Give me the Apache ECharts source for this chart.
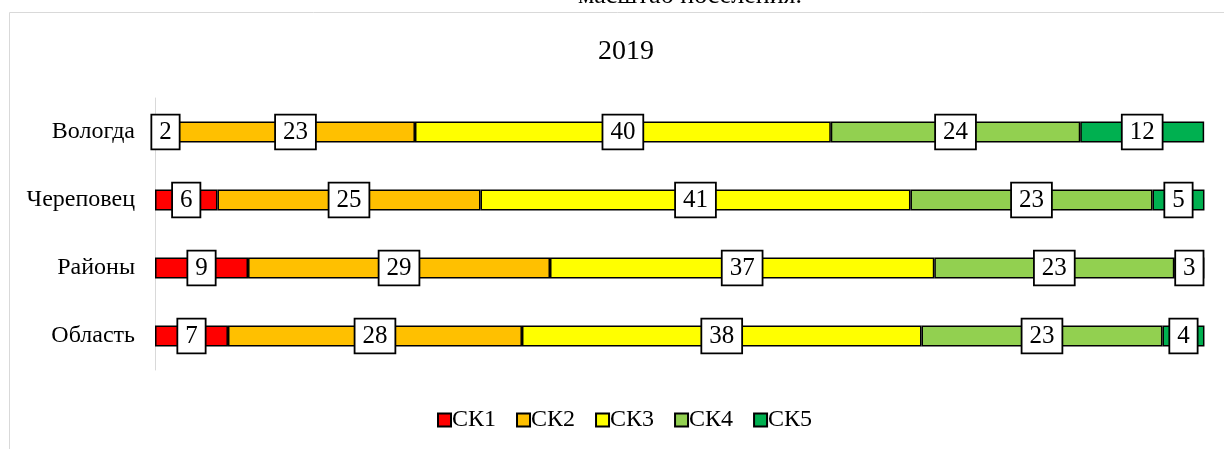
<!DOCTYPE html>
<html>
<head>
<meta charset="utf-8">
<script src="https://cdn.jsdelivr.net/npm/echarts@6/dist/echarts.min.js"></script>
<style>
  html, body { margin: 0; padding: 0; background: #fff; }
  #chart { width: 1224px; height: 449px; }
</style>
</head>
<body>
<div id="chart"></div>
<script>
// shares of each group, % (labels show rounded values)
const categories = ['Вологда', 'Череповец', 'Районы', 'Область']
const seriesNames = ['СК1', 'СК2', 'СК3', 'СК4', 'СК5']
const ck1 = [2.0, 5.95, 8.86, 6.95]
const ck2 = [22.76, 25.05, 28.76, 28.0]
const ck3 = [39.6, 40.95, 36.6, 38.05]
const ck4 = [23.76, 23.05, 22.86, 22.95]
const ck5 = [11.8, 4.95, 2.86, 4.0]
const colors = ['#FF0000', '#FFC000', '#FFFF00', '#92D050', '#00B050']

const FONT = 'Liberation Serif'
const chart = echarts.init(document.getElementById('chart'))

const seriesData = [ck1, ck2, ck3, ck4, ck5]

const option = {
  animation: false,
  textStyle: { fontFamily: FONT },
  title: {
    text: '2019',
    left: 621,
    textAlign: 'center',
    top: 33,
    textStyle: { fontFamily: FONT, fontWeight: 'normal', fontSize: 28, color: '#000' },
  },
  graphic: [
    {
      type: 'rect',
      shape: { x: 9.5, y: 12.5, width: 1400, height: 600 },
      style: { fill: 'none', stroke: '#d9d9d9', lineWidth: 1 },
      silent: true,
      z: -10,
    },
    {
      type: 'text',
      x: 690,
      y: 9,
      style: {
        text: 'масштаб поселения.',
        font: '26px "Liberation Serif"',
        fill: '#000',
        align: 'center',
        verticalAlign: 'bottom',
      },
    },
  ],
  legend: {
    data: seriesNames,
    bottom: 17,
    left: 437,
    padding: 0,
    itemWidth: 13,
    itemHeight: 13,
    itemGap: 20,
    icon: 'rect',
    textStyle: { fontFamily: FONT, fontSize: 24, color: '#000', padding: [0, 0, 0, -4] },
  },
  grid: {
    left: 155,
    right: 19,
    top: 98,
    bottom: 79,
    containLabel: false,
  },
  xAxis: {
    type: 'value',
    min: 0,
    max: 100,
    show: false,
    splitLine: { show: false },
  },
  yAxis: {
    type: 'category',
    data: categories,
    inverse: true,
    axisLine: { lineStyle: { color: '#d9d9d9', width: 1 } },
    axisTick: { show: false },
    axisLabel: { color: '#000', fontSize: 24, fontFamily: FONT, margin: 20 },
  },
  series: seriesNames.map((name, i) => ({
    name,
    type: 'bar',
    stack: 'total',
    data: seriesData[i],
    barWidth: 21,
    itemStyle: { color: colors[i], borderColor: '#000', borderWidth: 1.5 },
    label: {
      show: true,
      position: 'inside',
      formatter: p => Math.round(p.value),
      color: '#000',
      fontFamily: FONT,
      fontSize: 25,
      backgroundColor: '#fff',
      borderColor: '#000',
      borderWidth: 1.8,
      padding: [5, 7, 3, 7],
    },
  })),
}

chart.setOption(option)
</script>
</body>
</html>
